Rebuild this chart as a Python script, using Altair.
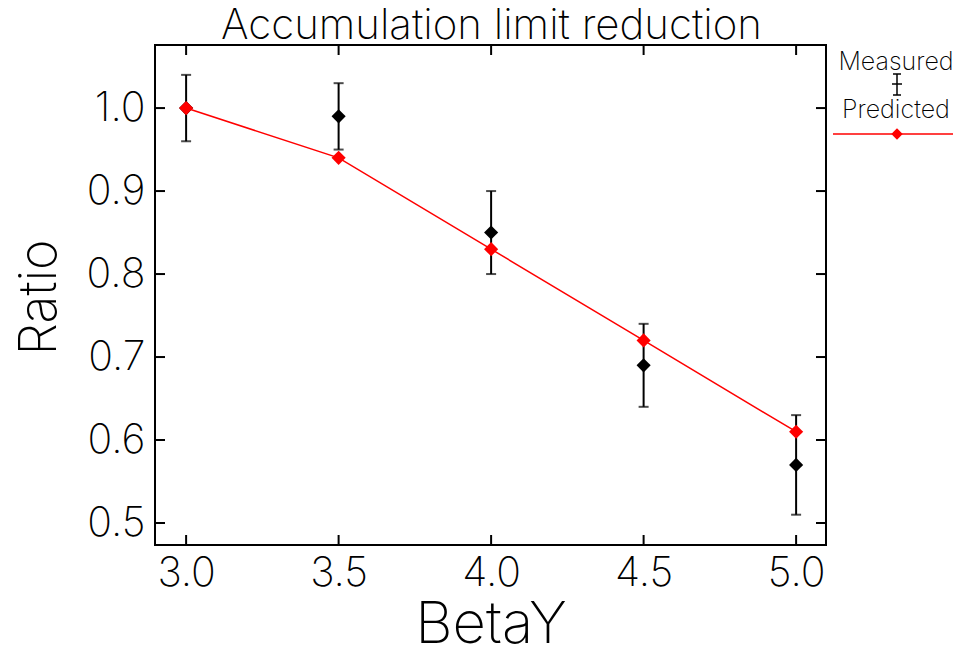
import altair as alt
import pandas as pd

beta = [3.0, 3.5, 4.0, 4.5, 5.0]
measured = [1.00, 0.99, 0.85, 0.69, 0.57]
meas_lo = [0.96, 0.95, 0.80, 0.64, 0.51]
meas_hi = [1.04, 1.03, 0.90, 0.74, 0.63]
predicted = [1.00, 0.94, 0.83, 0.72, 0.61]

x_ticks = [3.0, 3.5, 4.0, 4.5, 5.0]
y_ticks = [0.5, 0.6, 0.7, 0.8, 0.9, 1.0]

TITLE = "Accumulation limit reduction"
LEGEND = ["Measured", "Predicted"]

FONT = "Inter"
FW = 200
W, H = 671, 500
XDOM = [2.898, 5.098]
YDOM = [0.4735, 1.076]

df = pd.DataFrame({"beta": beta, "measured": measured, "lo": meas_lo,
                   "hi": meas_hi, "predicted": predicted})

xs = alt.Scale(domain=XDOM, nice=False, zero=False)
ys = alt.Scale(domain=YDOM, nice=False, zero=False)

base = alt.Chart(df)

xaxis = alt.Axis(values=x_ticks, format=".1f", ticks=False, domain=False, grid=False,
                 labelFont=FONT, labelFontSize=41, labelFontWeight=FW, labelColor="black",
                 labelPadding=8, title="BetaY", titleFont=FONT, titleFontSize=58,
                 titleFontWeight=FW, titleColor="black", titleX=W / 2, titleY=97,
                 titleBaseline="alphabetic", titleAnchor="middle")
yaxis = alt.Axis(values=y_ticks, format=".1f", ticks=False, domain=False, grid=False,
                 labelFont=FONT, labelFontSize=41, labelFontWeight=FW, labelColor="black",
                 labelPadding=10, title="Ratio", titleFont=FONT, titleFontSize=52,
                 titleFontWeight=FW, titleColor="black", titleX=-100, titleY=252,
                 titleAngle=-90, titleBaseline="alphabetic", titleAnchor="middle")

err = base.mark_rule(color="black", strokeWidth=2).encode(
    x=alt.X("beta:Q", scale=xs, axis=xaxis),
    y=alt.Y("lo:Q", scale=ys, axis=yaxis),
    y2="hi:Q",
)
cap_lo = base.mark_tick(color="black", orient="horizontal", size=10, thickness=2).encode(
    x=alt.X("beta:Q", scale=xs), y=alt.Y("lo:Q", scale=ys))
cap_hi = base.mark_tick(color="black", orient="horizontal", size=10, thickness=2).encode(
    x=alt.X("beta:Q", scale=xs), y=alt.Y("hi:Q", scale=ys))
meas_pts = base.mark_point(shape="diamond", filled=True, color="black", size=200, opacity=1).encode(
    x=alt.X("beta:Q", scale=xs), y=alt.Y("measured:Q", scale=ys))
pred_line = base.mark_line(color="#ff0000", strokeWidth=1.5).encode(
    x=alt.X("beta:Q", scale=xs), y=alt.Y("predicted:Q", scale=ys))
pred_pts = base.mark_point(shape="diamond", filled=True, color="#ff0000", size=200, opacity=1).encode(
    x=alt.X("beta:Q", scale=xs), y=alt.Y("predicted:Q", scale=ys))

# inward ticks on all four sides
xt = alt.Chart(pd.DataFrame({"v": x_ticks}))
yt = alt.Chart(pd.DataFrame({"v": y_ticks}))
tick_b = xt.mark_rule(color="black", strokeWidth=2).encode(
    x=alt.X("v:Q", scale=xs), y=alt.value(H), y2=alt.value(H - 10))
tick_t = xt.mark_rule(color="black", strokeWidth=2).encode(
    x=alt.X("v:Q", scale=xs), y=alt.value(0), y2=alt.value(10))
tick_l = yt.mark_rule(color="black", strokeWidth=2).encode(
    y=alt.Y("v:Q", scale=ys), x=alt.value(0), x2=alt.value(10))
tick_r = yt.mark_rule(color="black", strokeWidth=2).encode(
    y=alt.Y("v:Q", scale=ys), x=alt.value(W), x2=alt.value(W - 10))

# title as text mark
one = alt.Chart(pd.DataFrame({"k": [0]}))
title_txt = one.mark_text(font=FONT, fontSize=42, fontWeight=FW, color="black",
                          align="center", baseline="alphabetic", text=TITLE).encode(
    x=alt.value(W / 2 + 1), y=alt.value(-6))

# legend
leg = alt.Chart(pd.DataFrame({"label": LEGEND, "yy": [25, 73]}))
leg_text = leg.mark_text(font=FONT, fontSize=25, fontWeight=FW, color="black",
                         align="center", baseline="alphabetic").encode(
    text="label:N", x=alt.value(741), y=alt.Y("yy:Q", scale=None))
leg_err_v = one.mark_rule(color="black", strokeWidth=1.5).encode(
    x=alt.value(742), y=alt.value(29), y2=alt.value(50))
leg_err_h = one.mark_rule(color="black", strokeWidth=1.5).encode(
    x=alt.value(737), x2=alt.value(747), y=alt.value(39))
leg_cap_t = one.mark_rule(color="black", strokeWidth=1.5).encode(
    x=alt.value(738), x2=alt.value(746), y=alt.value(29))
leg_cap_b = one.mark_rule(color="black", strokeWidth=1.5).encode(
    x=alt.value(738), x2=alt.value(746), y=alt.value(50))
leg_line = one.mark_rule(color="#ff0000", strokeWidth=1.5).encode(
    x=alt.value(678), x2=alt.value(805), y=alt.value(89))
leg_pt = one.mark_point(shape="diamond", filled=True, color="#ff0000", size=130, opacity=1).encode(
    x=alt.value(742), y=alt.value(89))

chart = alt.layer(
    err, cap_lo, cap_hi, meas_pts, pred_line, pred_pts,
    tick_b, tick_t, tick_l, tick_r, title_txt,
    leg_text, leg_err_v, leg_err_h, leg_cap_t, leg_cap_b, leg_line, leg_pt,
).properties(
    width=W, height=H,
    autosize=alt.AutoSizeParams(type="none"),
    padding={"left": 147, "top": 37, "right": 127, "bottom": 100},
).configure(
    background="white",
    view=alt.ViewConfig(stroke="black", strokeWidth=2),
)

chart.save("out.html", embed_options={"renderer": "svg", "actions": False})
